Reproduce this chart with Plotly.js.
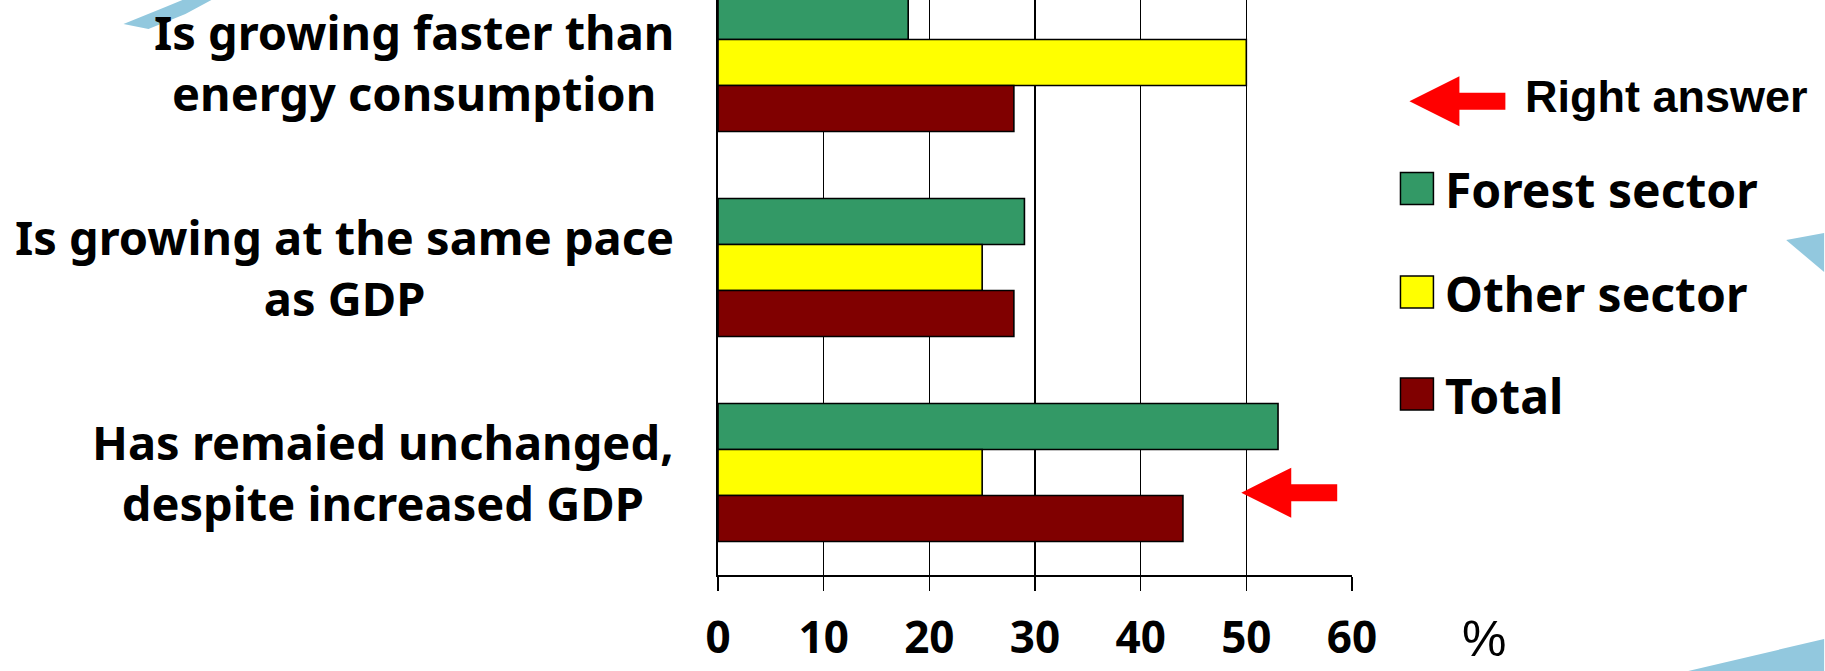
<!DOCTYPE html>
<html>
<head>
<meta charset="utf-8">
<script src="https://cdn.plot.ly/plotly-3.0.1.min.js"></script>
<style>
  html, body { margin: 0; padding: 0; background: #ffffff; }
  #chart { width: 1825px; height: 671px; }
</style>
</head>
<body>
<div id="chart"></div>
<script>
// ---- data ----
const categories = [
  "Is growing faster than<br>energy consumption",
  "Is growing at the same pace<br>as GDP",
  "Has remaied unchanged,<br>despite increased GDP"
];
const seriesNames = ["Forest sector", "Other sector", "Total"];
const forestSector = [18, 29, 53];
const otherSector = [50, 25, 25];
const totalValues = [28, 28, 44];
const xTickValues = [0, 10, 20, 30, 40, 50, 60];
const xUnitLabel = "%";
const rightAnswerLabel = "Right answer";

// ---- styling ----
const colors = ["#339966", "#FFFF00", "#800000"];
const W = 1825, H = 671;
const PL = 718, PR = 1352.5, PT = 0, PB = 575;
const px = X => (X - PL) / (PR - PL);
const py = Y => (PB - Y) / (PB - PT);

const labelFont = {family: "Noto Sans, DejaVu Sans, sans-serif", size: 47, color: "#000", weight: "bold"};

const seriesValues = [forestSector, otherSector, totalValues];
const traces = seriesValues.map((vals, i) => ({
  type: "bar",
  orientation: "h",
  name: seriesNames[i],
  y: categories,
  x: vals,
  marker: {color: colors[i], line: {color: "#000", width: 1.6}},
  showlegend: false,
  hoverinfo: "x+name"
}));

function arrowPath(tx, ty) {
  const pts = [
    [tx, ty], [tx + 50, ty - 25], [tx + 50, ty - 8.5], [tx + 96, ty - 8.5],
    [tx + 96, ty + 8.5], [tx + 50, ty + 8.5], [tx + 50, ty + 25]
  ];
  return "M" + pts.map(p => px(p[0]) + "," + py(p[1])).join(" L") + " Z";
}
function polyPath(pts) {
  return "M" + pts.map(p => px(p[0]) + "," + py(p[1])).join(" L") + " Z";
}

const shapes = [];
const annotations = [];

// category labels (centered multi-line, right edge near the axis)
categories.forEach(c => {
  annotations.push({
    xref: "paper", yref: "y", x: px(676), y: c,
    xanchor: "right", yanchor: "middle", align: "center",
    text: c, showarrow: false, font: labelFont
  });
});

// custom legend
const legendCenters = [188.5, 292, 394];
seriesNames.forEach((n, i) => {
  const cy = legendCenters[i];
  shapes.push({
    type: "rect", xref: "paper", yref: "paper",
    x0: px(1401), x1: px(1434), y0: py(cy - 16), y1: py(cy + 16),
    fillcolor: colors[i], line: {color: "#000", width: 1.5}, layer: "above"
  });
  annotations.push({
    xref: "paper", yref: "paper", x: px(1444), y: py(cy + 1),
    xanchor: "left", yanchor: "middle", text: n, showarrow: false,
    font: {family: "Noto Sans, DejaVu Sans, sans-serif", size: 48, color: "#000", weight: "bold"}
  });
});

// "Right answer" legend arrow + text
shapes.push({type: "path", xref: "paper", yref: "paper", path: arrowPath(1410, 101.3),
  fillcolor: "#FF0000", line: {width: 0}, layer: "above"});
annotations.push({
  xref: "paper", yref: "paper", x: px(1524), y: py(96),
  xanchor: "left", yanchor: "middle", text: rightAnswerLabel, showarrow: false,
  font: {family: "Liberation Sans, Arial, sans-serif", size: 45, color: "#000", weight: "bold"}
});

// arrow pointing at the right answer bar group
shapes.push({type: "path", xref: "paper", yref: "paper", path: arrowPath(1241.7, 492.7),
  fillcolor: "#FF0000", line: {width: 0}, layer: "above"});

// unit label
annotations.push({
  xref: "paper", yref: "paper", x: px(1485), y: py(669),
  xanchor: "center", yanchor: "bottom", text: xUnitLabel, showarrow: false,
  font: {family: "Liberation Sans, Arial, sans-serif", size: 50, color: "#000"}
});

// light-blue background decorations
const deco = "#92C8DE";
shapes.push({type: "path", xref: "paper", yref: "paper", fillcolor: deco, line: {width: 0}, layer: "below",
  path: polyPath([[123, 24], [165, 7], [182, 0], [211, 0], [185, 14], [148, 29]])});
shapes.push({type: "path", xref: "paper", yref: "paper", fillcolor: deco, line: {width: 0}, layer: "below",
  path: polyPath([[1787, 240], [1825, 233], [1825, 272]])});
shapes.push({type: "path", xref: "paper", yref: "paper", fillcolor: deco, line: {width: 0}, layer: "below",
  path: polyPath([[1689, 671], [1825, 639], [1825, 671]])});

const layout = {
  width: W, height: H,
  margin: {l: PL, r: W - PR, t: PT, b: H - PB, pad: 0},
  paper_bgcolor: "#ffffff",
  plot_bgcolor: "rgba(0,0,0,0)",
  barmode: "group",
  bargap: 0.327,
  bargroupgap: 0,
  showlegend: false,
  xaxis: {
    range: [0, 60],
    tickvals: xTickValues,
    ticktext: xTickValues.map(String),
    ticks: "outside", ticklen: 14, tickwidth: 1.6, tickcolor: "#000",
    showline: true, linecolor: "#000", linewidth: 1.6,
    showgrid: true, gridcolor: "#000", gridwidth: 1.6,
    zeroline: false,
    tickfont: {family: "Noto Sans, DejaVu Sans, sans-serif", size: 44, color: "#000", weight: "bold"},
    ticklabelstandoff: 10
  },
  yaxis: {
    type: "category",
    categoryorder: "array", categoryarray: categories,
    range: [2.5, -0.305],
    showticklabels: false, ticks: "",
    showline: true, linecolor: "#000", linewidth: 1.6,
    showgrid: false, zeroline: false
  },
  shapes: shapes,
  annotations: annotations
};

Plotly.newPlot("chart", traces, layout, {displayModeBar: false, staticPlot: true});
</script>
</body>
</html>
